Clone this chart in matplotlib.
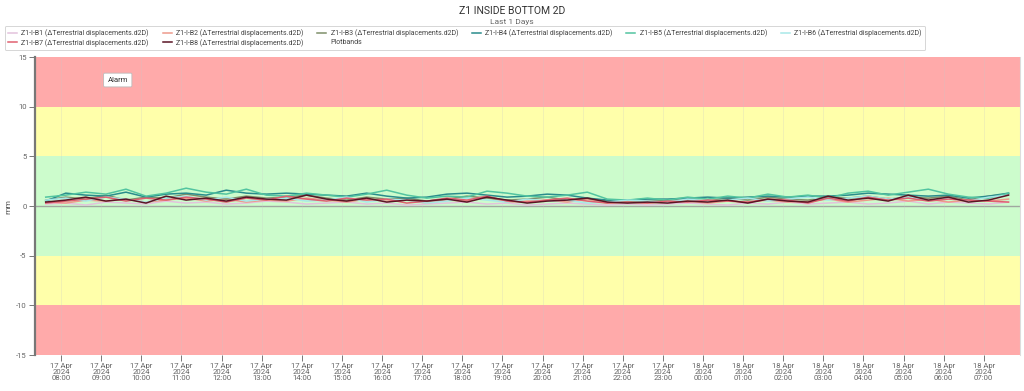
import matplotlib
matplotlib.use("Agg")
import matplotlib.pyplot as plt
import matplotlib.dates as mdates
from matplotlib.lines import Line2D
import numpy as np
import pandas as pd

plt.rcParams['font.family'] = ['Roboto', 'DejaVu Sans']

title = "Z1 INSIDE BOTTOM 2D"
subtitle = "Last 1 Days"
ylabel = "mm"

times = pd.date_range("2024-04-17 07:37", periods=49, freq="30min")

series_names = ["Z1-I-B1", "Z1-I-B2", "Z1-I-B3", "Z1-I-B4",
                "Z1-I-B5", "Z1-I-B6", "Z1-I-B7", "Z1-I-B8"]
series_colors = ["#e3c2dc", "#ee9a8c", "#7f8f6a", "#2a8c8c",
                 "#52c4a0", "#a8e8e8", "#e06070", "#5a1424"]

b1 = [0.2,0.3,0.1,0.4,0.3,0.2,0.5,0.3,0.4,0.2,0.3,0.5,0.4,0.2,0.3,0.4,0.2,0.3,0.1,0.2,0.3,0.4,0.2,0.3,0.1,0.2,0.3,0.2,0.1,0.2,0.1,0.2,0.3,0.2,0.1,0.3,0.2,0.4,0.2,0.3,0.4,0.2,0.3,0.5,0.2,0.4,0.3,0.2,0.4]
b2 = [0.4,0.3,0.6,0.5,0.7,0.4,0.6,0.8,0.5,0.7,0.4,0.6,0.5,0.8,0.6,0.4,0.7,0.5,0.6,0.3,0.6,0.5,0.9,0.4,0.5,0.6,0.4,0.7,0.3,0.4,0.3,0.4,0.5,0.3,0.5,0.4,0.6,0.4,0.5,0.7,0.4,0.6,0.8,0.5,0.7,0.4,0.6,0.5,0.7]
b3 = [0.6,0.9,0.7,1.1,0.6,0.9,0.8,1.2,0.9,0.7,1.0,0.8,0.9,1.1,0.8,0.6,0.9,0.7,0.8,0.5,0.7,1.0,0.8,0.6,0.7,0.9,0.6,0.8,0.5,0.4,0.5,0.6,0.7,0.5,0.8,0.6,0.9,0.7,0.6,0.9,0.8,1.0,0.7,0.9,0.8,1.0,0.6,1.0,1.2]
b4 = [0.5,1.3,1.1,1.0,1.4,0.9,1.2,1.3,1.1,1.6,1.3,1.2,1.3,1.2,1.1,1.0,1.3,1.0,0.8,0.9,1.2,1.3,1.1,0.9,1.0,1.2,1.1,0.8,0.6,0.6,0.7,0.7,0.8,0.9,0.8,0.9,1.0,0.9,1.0,1.0,1.1,1.3,1.2,1.1,1.0,1.1,0.8,1.0,1.3]
b5 = [0.9,1.1,1.4,1.2,1.7,1.0,1.3,1.8,1.4,1.2,1.7,1.1,1.0,1.3,1.1,0.9,1.2,1.6,1.1,0.8,1.0,0.9,1.5,1.3,1.0,0.9,1.1,1.4,0.7,0.6,0.8,0.6,0.9,0.7,1.0,0.8,1.2,0.9,1.1,0.8,1.3,1.5,1.1,1.4,1.7,1.2,0.9,0.8,1.3]
b6 = [0.6,0.8,0.5,0.9,0.7,0.4,0.8,1.0,0.6,0.9,0.5,0.7,0.8,0.5,0.6,0.9,0.4,0.7,0.6,0.3,0.5,0.8,0.6,0.4,0.7,0.5,0.6,0.3,0.4,0.6,0.5,0.4,0.7,0.5,0.6,0.8,0.5,0.7,0.9,0.6,0.8,1.0,0.7,0.9,0.6,0.8,0.5,0.9,1.1]
b7 = [0.3,0.5,0.7,0.9,0.5,0.8,0.6,0.9,0.7,0.4,0.8,0.6,1.0,0.7,0.5,0.8,0.6,0.7,0.3,0.5,0.8,0.6,1.0,0.5,0.4,0.6,0.8,0.5,0.3,0.4,0.3,0.5,0.4,0.6,0.5,0.4,0.7,0.6,0.3,0.8,0.5,0.9,0.6,0.8,0.5,0.7,0.6,0.5,0.4]
b8 = [0.4,0.6,0.9,0.5,0.7,0.3,1.0,0.6,0.8,0.5,0.9,0.7,0.6,1.1,0.7,0.5,0.8,0.4,0.6,0.5,0.7,0.4,0.9,0.6,0.3,0.5,0.6,0.8,0.4,0.3,0.4,0.3,0.5,0.4,0.6,0.3,0.7,0.5,0.4,1.0,0.6,0.8,0.5,1.1,0.6,0.9,0.4,0.6,1.1]
series_values = [b1, b2, b3, b4, b5, b6, b7, b8]

band_edges = [-15, -10, -5, 5, 10, 15]
band_colors = ["#ffaaaa", "#ffffaa", "#ccfccc", "#ffffaa", "#ffaaaa"]

legend_suffix = " (\u0394Terrestrial displacements.d2D)"

fig = plt.figure(figsize=(10.24, 3.91), dpi=100)
ax = fig.add_axes([0.0342, 0.092, 0.9618, 0.762])

for lo, hi, c in zip(band_edges[:-1], band_edges[1:], band_colors):
    ax.axhspan(lo, hi, color=c, zorder=0, lw=0)

ax.axhline(0, color="#a0a8a0", lw=1.0, zorder=1)

handles = {}
for name, vals, col in zip(series_names, series_values, series_colors):
    h, = ax.plot(times, vals, color=col, lw=1.1, zorder=3)
    handles[name] = h

xmin = pd.Timestamp("2024-04-17 07:21")
xmax = pd.Timestamp("2024-04-18 07:54")
ax.set_xlim(xmin, xmax)
ax.set_ylim(-15, 15)
ax.set_yticks([-15, -10, -5, 0, 5, 10, 15])
ax.set_yticklabels(["-15", "-10", "-5", "0", "5", "10", "15"])

ax.xaxis.set_major_locator(mdates.HourLocator(interval=1))
ax.xaxis.set_major_formatter(mdates.DateFormatter("%d %b\n%Y\n%H:%M"))

ax.grid(True, axis="x", color="#c8c8c8", lw=0.5, alpha=0.35, zorder=1)
ax.tick_params(axis="both", labelsize=5.6, colors="#777777", length=4, width=0.7)
ax.tick_params(axis="x", labelcolor="#666666", pad=1.5)
ax.tick_params(axis="y", labelcolor="#666666", pad=2)
for lbl in ax.get_xticklabels():
    lbl.set_linespacing(1.0)

for s in ["top", "bottom"]:
    ax.spines[s].set_visible(False)
ax.spines["left"].set_color("#777777")
ax.spines["left"].set_linewidth(1.6)
ax.spines["right"].set_color("#dddddd")
ax.spines["right"].set_linewidth(0.8)

fig.text(0.008, 0.473, ylabel, rotation=90, fontsize=6, color="#555555",
         ha="center", va="center")

ax.text(0.084, 0.923, "Alarm", transform=ax.transAxes, fontsize=5.6, color="#333333",
        ha="center", va="center",
        bbox=dict(boxstyle="round,pad=0.5,rounding_size=0.15", fc="white", ec="#bbbbbb", lw=0.6))

fig.text(0.5, 0.985, title, ha="center", va="top", fontsize=7.5, color="#333333")
fig.text(0.5, 0.952, subtitle, ha="center", va="top", fontsize=6, color="#666666")

blank = Line2D([], [], color="none")
order = ["Z1-I-B1", "Z1-I-B7", "Z1-I-B2", "Z1-I-B8", "Z1-I-B3", None,
         "Z1-I-B4", "Z1-I-B5", "Z1-I-B6"]
leg_handles = [handles[n] if n else blank for n in order]
leg_labels = [n + legend_suffix if n else "Plotbands" for n in order]
leg = fig.legend(leg_handles, leg_labels, ncol=6, loc="center",
                 bbox_to_anchor=(0.454, 0.903), fontsize=5.0, frameon=True,
                 handlelength=1.3, handletextpad=0.6, columnspacing=2.0,
                 labelspacing=0.2, borderpad=0.5, fancybox=True)
leg.get_frame().set_edgecolor("#cccccc")
leg.get_frame().set_linewidth(0.7)
for t in leg.get_texts():
    t.set_color("#444444")

fig.savefig("out.png", dpi=100)
